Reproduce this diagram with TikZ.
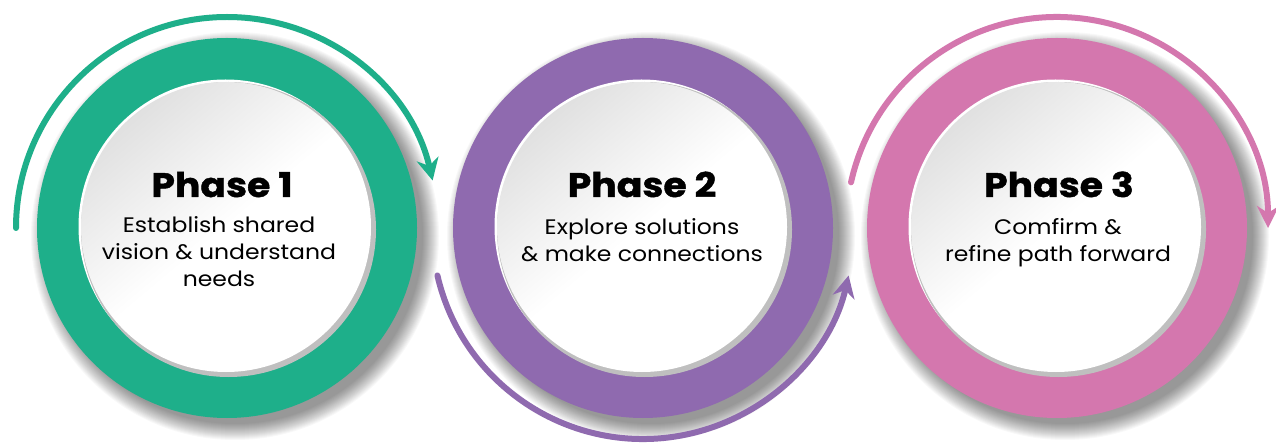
\documentclass[tikz,border=0pt]{standalone}
\usepackage{fontspec}
\setmainfont{Poppins}
\newfontfamily\phtitlefont[FakeStretch=1.11,FakeBold=1.2]{Poppins Bold}
\newfontfamily\phbodyfont[FakeStretch=1.12]{Poppins}
\usetikzlibrary{arrows.meta}
\definecolor{cgreen}{HTML}{1EAF8A}
\definecolor{cpurple}{HTML}{8F6AAF}
\definecolor{cpink}{HTML}{D477AE}
\newcommand\phasering[2]{%
  \foreach \k in {0,...,16}{
    \fill[black, opacity=0.028] ([shift={(8,-8)}]#1) circle ({188+16-\k});
  }
  \fill[#2] (#1) circle (190);
  \fill[white] ([shift={(-1.5,1.5)}]#1) circle (147);
  \fill[black!25] ([shift={(1.5,-1.5)}]#1) circle (147.5);
  \shade[top color=black!12, bottom color=white, middle color=white, shading angle=40] ([shift={(-1,1)}]#1) circle (145);
}
\begin{document}
\begin{tikzpicture}[x=1pt,y=1pt,
  phasearc/.style={line width=6pt, line cap=round, -{Stealth[length=22pt,width=22pt,inset=7pt]}},
  title/.style={font=\fontsize{34}{40}\phtitlefont\selectfont, anchor=base, inner sep=0pt},
  body/.style={font=\fontsize{21}{27}\phbodyfont\selectfont, align=center, anchor=base, inner sep=0pt}]
\useasboundingbox (0,0) rectangle (1276,442);
\fill[white] (0,0) rectangle (1276,442);
\coordinate (c1) at (227,214);
\coordinate (c2) at (643,214);
\coordinate (c3) at (1057,214);
\phasering{c1}{cgreen}
\phasering{c2}{cpurple}
\phasering{c3}{cpink}
\draw[phasearc, cgreen] ([shift={(180:211)}]c1) arc[start angle=180, end angle=13, radius=211];
\draw[phasearc, cpurple] ([shift={(193:211)}]c2) arc[start angle=193, end angle=347, radius=211];
\draw[phasearc, cpink] ([shift={(167.5:211)}]c3) arc[start angle=167.5, end angle=0, radius=211];
\node[title] (t1) at (222,245) {Phase 1};
\node[body] (b1) at (219,155) {Establish shared\\vision \& understand\\needs};
\node[title] (t2) at (642,245) {Phase 2};
\node[body] (b2) at (642,180) {Explore solutions\\\& make connections};
\node[title] (t3) at (1059,245) {Phase 3};
\node[body] (b3) at (1058,180) {Comfirm \&\\refine path forward};
\end{tikzpicture}
\end{document}
